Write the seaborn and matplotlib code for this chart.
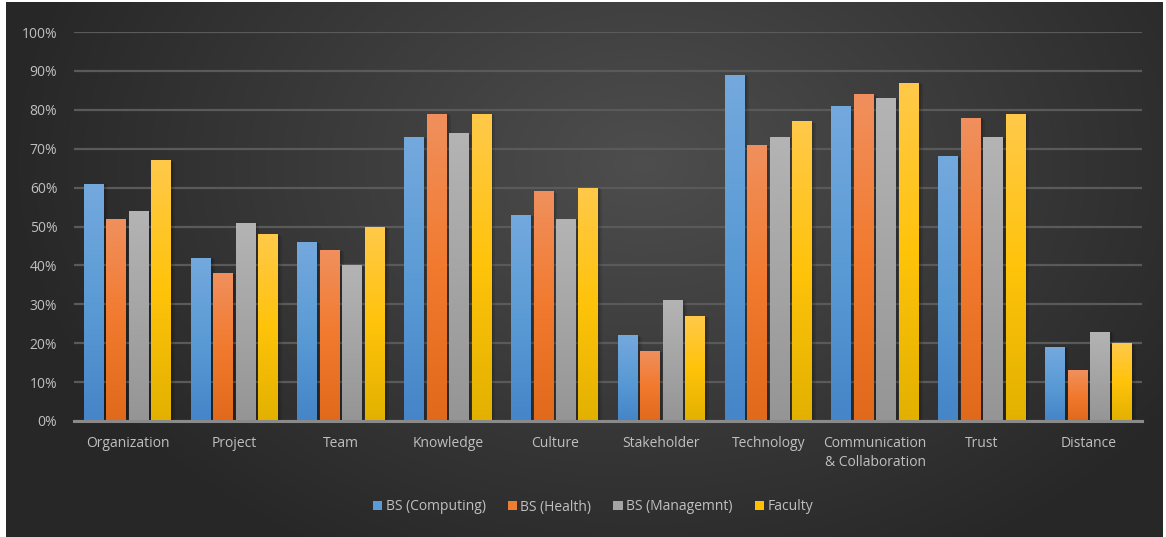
import numpy as np
import pandas as pd
import matplotlib
matplotlib.use("Agg")
import matplotlib.pyplot as plt
import seaborn as sns
from matplotlib.colors import LinearSegmentedColormap
from matplotlib.patches import Patch
from matplotlib.ticker import PercentFormatter
import matplotlib.patheffects as pe

categories = ["Organization", "Project", "Team", "Knowledge", "Culture", "Stakeholder",
              "Technology", "Communication\n& Collaboration", "Trust", "Distance"]
series_names = ["BS (Computing)", "BS (Health)", "BS (Managemnt)", "Faculty"]
bs_computing = [61, 42, 46, 73, 53, 22, 89, 81, 68, 19]
bs_health = [52, 38, 44, 79, 59, 18, 71, 84, 78, 13]
bs_management = [54, 51, 40, 74, 52, 31, 73, 83, 73, 23]
faculty = [67, 48, 50, 79, 60, 27, 77, 87, 79, 20]

colors = ["#5b9bd5", "#ed7d31", "#a5a5a5", "#ffc000"]
grad_stops = [
    ["#4585c8", "#5b9bd5", "#74a9de"],
    ["#e0691c", "#f27a2e", "#f0905e"],
    ["#959595", "#a5a5a5", "#b4b4b4"],
    ["#e2b100", "#ffc30a", "#ffc94a"],
]

rows = []
for name, vals in zip(series_names, [bs_computing, bs_health, bs_management, faculty]):
    for c, v in zip(categories, vals):
        rows.append({"category": c, "series": name, "value": v / 100.0})
df = pd.DataFrame(rows)

sns.set_theme(style="dark")
plt.rcParams['font.family'] = ['Open Sans', 'DejaVu Sans']

W, H = 1166, 537
fig = plt.figure(figsize=(W / 100, H / 100), dpi=100, facecolor="white")

# background panel with radial gradient
bg = fig.add_axes([6 / W, 0, (1163 - 6) / W, (537 - 2) / H])
gh, gw = 300, 640
yy, xx = np.mgrid[0:gh, 0:gw]
cx, cy = 0.55 * gw, 0.30 * gh
r = np.sqrt(((xx - cx) / (0.62 * gw)) ** 2 + ((yy - cy) / (0.95 * gh)) ** 2)
val = np.clip(0.305 - 0.17 * r, 0.155, 0.305)
bg.imshow(np.dstack([val, val, val]), aspect="auto", origin="upper", extent=[0, 1, 0, 1])
bg.set_axis_off()

ax = fig.add_axes([74 / W, (537 - 421) / H, 1068 / W, 389 / H])
ax.set_facecolor("none")

sns.barplot(data=df, x="category", y="value", hue="series", palette=colors,
            width=0.84, gap=0.12, saturation=1, ax=ax, zorder=3)
if ax.legend_ is not None:
    ax.legend_.remove()

xlim = ax.get_xlim()
grad = np.linspace(0, 1, 256).reshape(-1, 1)
for i, cont in enumerate(ax.containers):
    cmap = LinearSegmentedColormap.from_list(f"g{i}", grad_stops[i])
    for bar in cont:
        bar.set_path_effects([
            pe.SimplePatchShadow(offset=(3, -1), shadow_rgbFace="black", alpha=0.10),
            pe.SimplePatchShadow(offset=(1.5, -0.5), shadow_rgbFace="black", alpha=0.15),
            pe.Normal()])
        bar.set_edgecolor("none")
        x0, y0 = bar.get_x(), bar.get_y()
        w, h = bar.get_width(), bar.get_height()
        im = ax.imshow(grad, extent=[x0, x0 + w, y0, y0 + h], aspect="auto",
                       cmap=cmap, origin="lower", zorder=3.5)
        im.set_clip_path(bar)

ax.set_xlim(xlim)
ax.set_ylim(0, 1.0)
ax.set_aspect("auto")
ax.set_yticks(np.arange(0, 1.01, 0.1))
ax.yaxis.set_major_formatter(PercentFormatter(1.0, decimals=0))
ax.grid(axis="y", color="#5a5a5a", linewidth=1.6, zorder=0)
ax.grid(axis="x", visible=False)
ax.set_axisbelow(True)
for s in ["left", "right", "top"]:
    ax.spines[s].set_visible(False)
ax.spines["bottom"].set_color("#8a8a8a")
ax.spines["bottom"].set_linewidth(2.2)
ax.spines["bottom"].set_zorder(5)
ax.set_xlabel("")
ax.set_ylabel("")
ax.tick_params(axis="both", colors="#c0c0c0", labelsize=10, length=0)
ax.tick_params(axis="y", pad=12)
ax.tick_params(axis="x", pad=11)
for lab in ax.get_xticklabels():
    lab.set_linespacing(1.35)
    lab.set_verticalalignment("top")

handles = [Patch(facecolor=c, edgecolor="none") for c in colors]
fig.legend(handles, series_names, loc="center", bbox_to_anchor=(593 / W, 1 - 507 / H),
           ncol=4, frameon=False, handlelength=0.65, handleheight=0.65,
           handletextpad=0.25, columnspacing=1.6, labelcolor="#c0c0c0", fontsize=10)

fig.savefig("out.png", dpi=100, facecolor="white")
